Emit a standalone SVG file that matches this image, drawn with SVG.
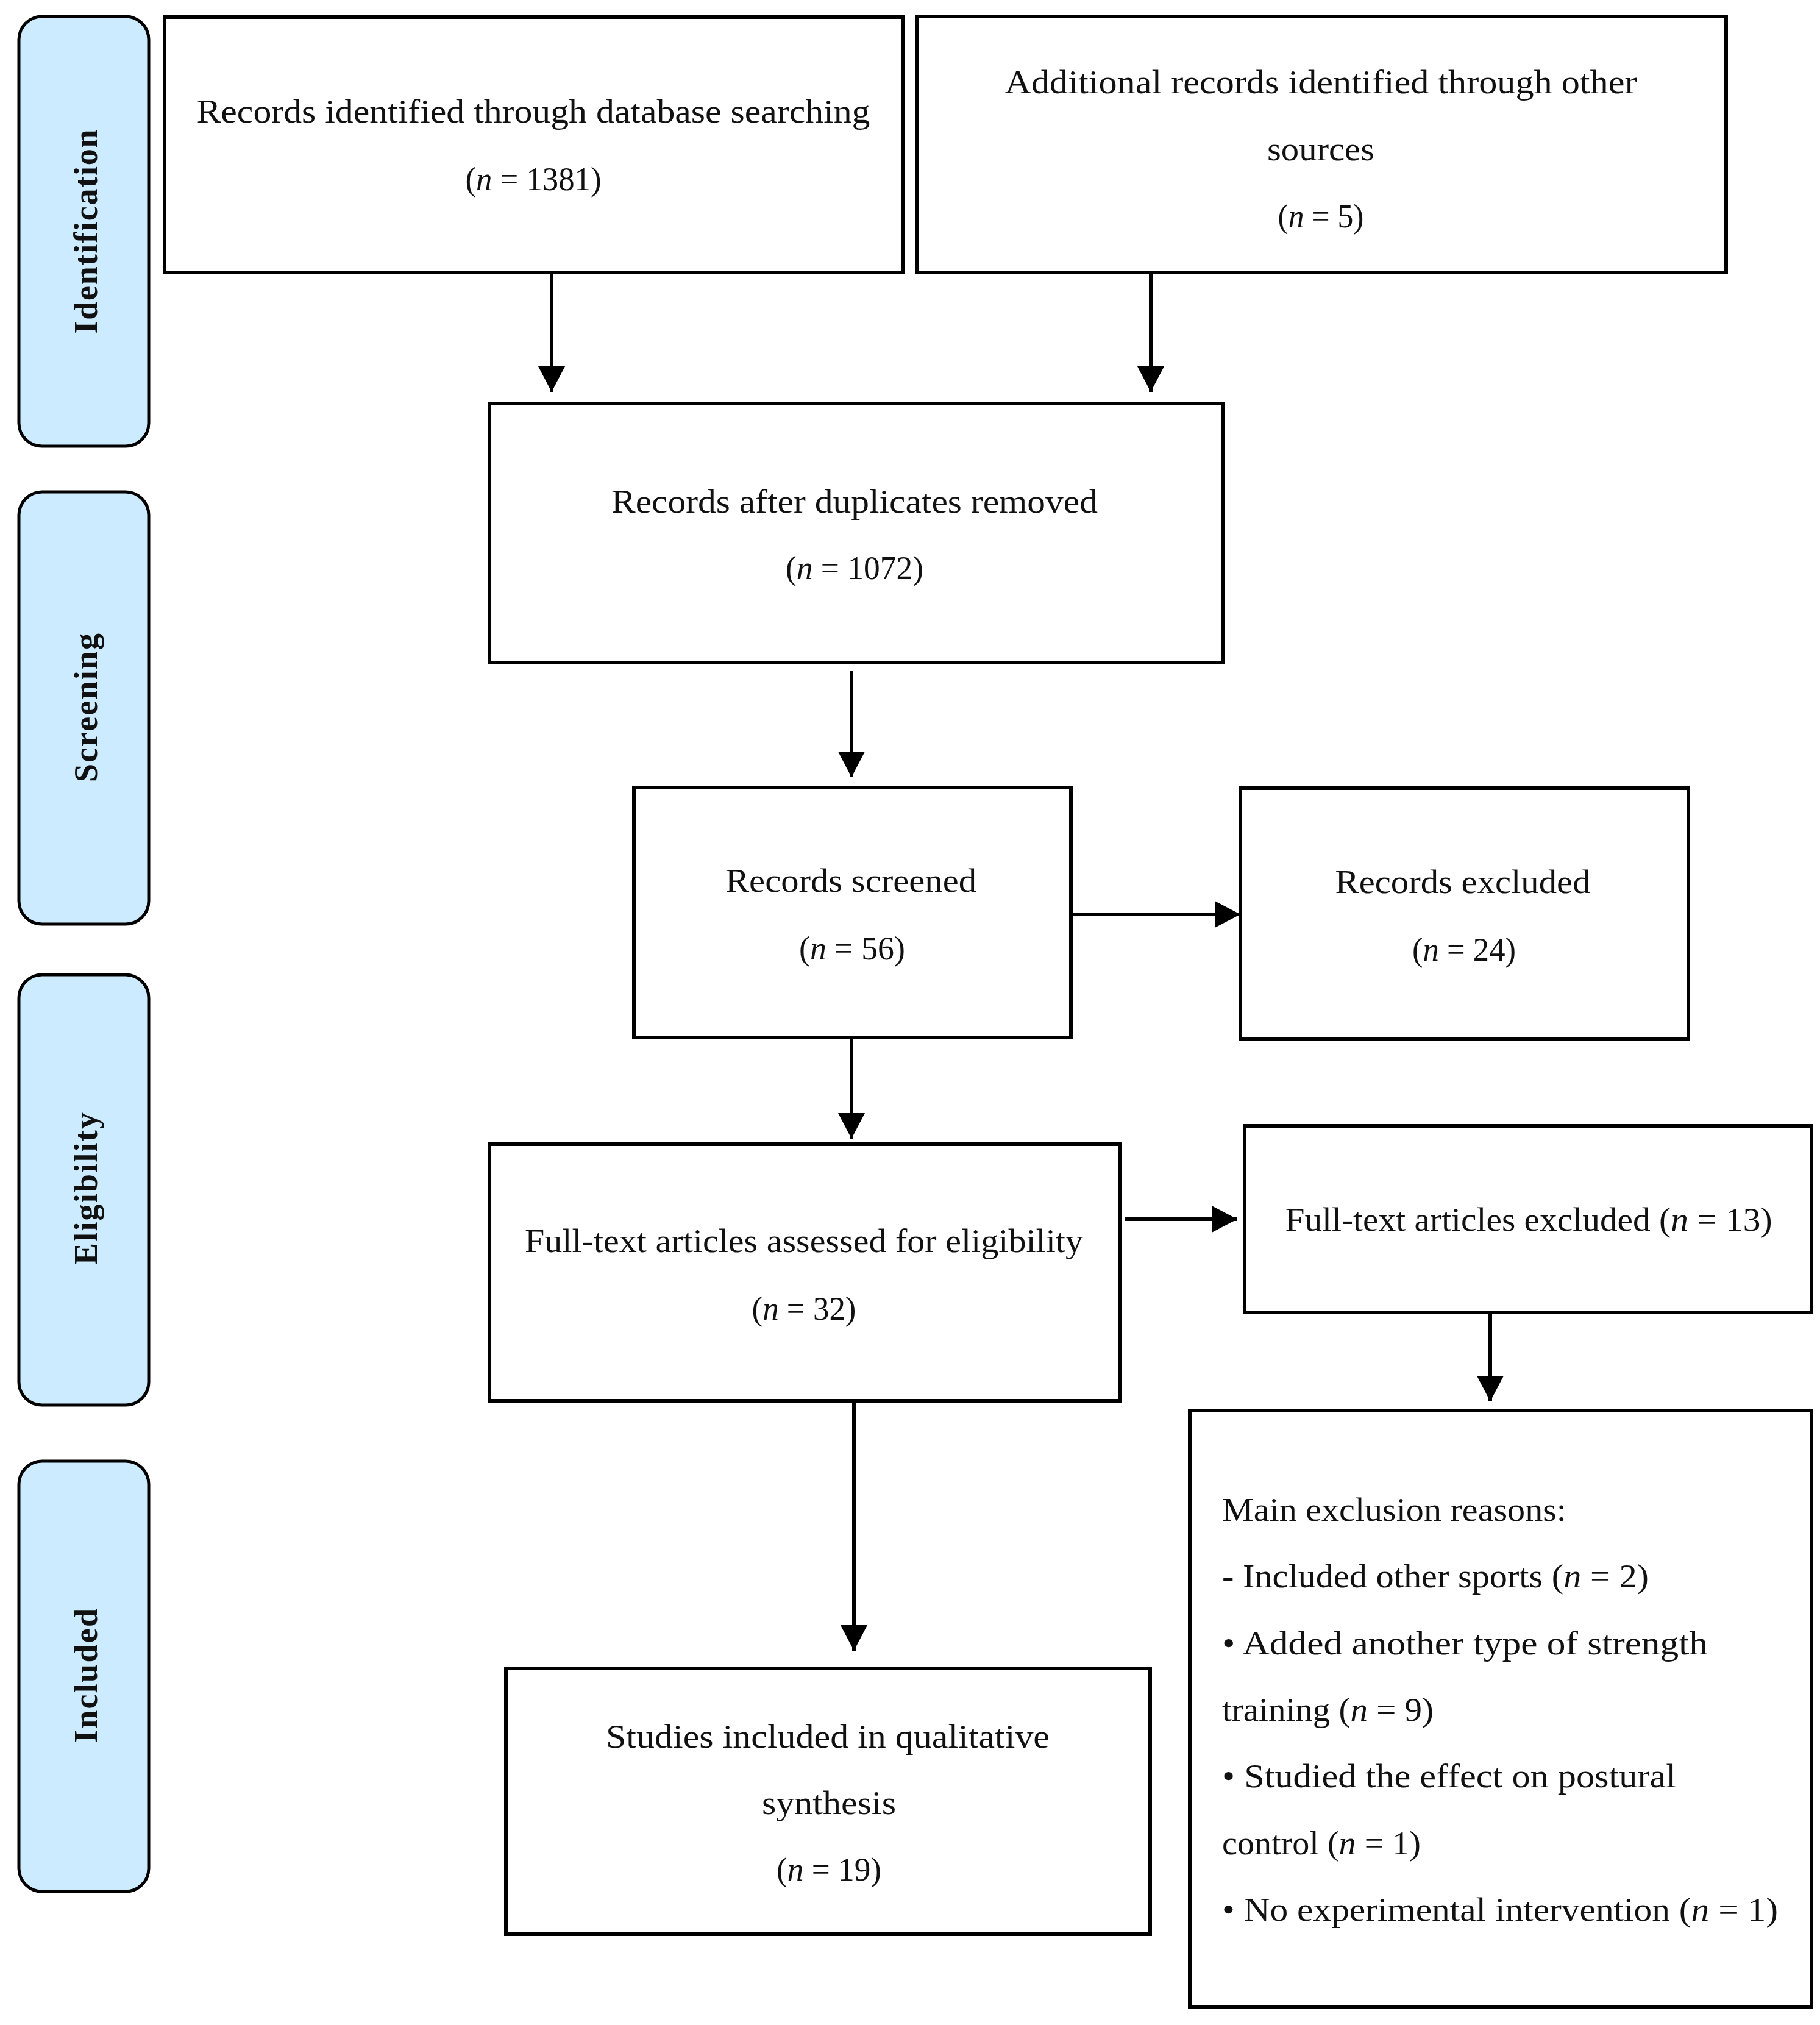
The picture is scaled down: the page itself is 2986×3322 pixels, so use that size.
<svg xmlns="http://www.w3.org/2000/svg" width="2986" height="3322" viewBox="0 0 2986 3322">
<style>
.bg{fill:#ffffff}
.box{fill:#ffffff;stroke:#000;stroke-width:6}
.phase{fill:#CCEBFF;stroke:#000;stroke-width:5}
.t{font-family:"Liberation Serif","Times New Roman",serif;font-size:54px;fill:#111;text-anchor:middle}
.tl{font-family:"Liberation Serif","Times New Roman",serif;font-size:54px;fill:#111;text-anchor:start}
.ph{font-family:"Liberation Serif","Times New Roman",serif;font-size:54px;font-weight:bold;fill:#111;text-anchor:middle}
.i{font-style:italic}
.conn{stroke:#000;stroke-width:6;fill:none}
</style>
<defs>
<marker id="ah" markerUnits="userSpaceOnUse" markerWidth="44" markerHeight="44" refX="42" refY="22" orient="auto">
<path d="M0,0 L42,22 L0,44 z" fill="#000"/>
</marker>
</defs>
<rect class="bg" x="0" y="0" width="2986" height="3322"/>

<g id="phase-identification">
<rect class="phase" x="31" y="27" width="213" height="705" rx="38" ry="38"/>
<text class="ph" transform="translate(159,380) rotate(-90)" textLength="335" lengthAdjust="spacing">Identification</text>
</g>
<g id="phase-screening">
<rect class="phase" x="31" y="807" width="213" height="709" rx="38" ry="38"/>
<text class="ph" transform="translate(159,1161) rotate(-90)" textLength="244" lengthAdjust="spacing">Screening</text>
</g>
<g id="phase-eligibility">
<rect class="phase" x="31" y="1599" width="213" height="706" rx="38" ry="38"/>
<text class="ph" transform="translate(159,1950) rotate(-90)" textLength="250" lengthAdjust="spacing">Eligibility</text>
</g>
<g id="phase-included">
<rect class="phase" x="31" y="2397" width="213" height="706" rx="38" ry="38"/>
<text class="ph" transform="translate(159,2749) rotate(-90)" textLength="220" lengthAdjust="spacing">Included</text>
</g>

<g id="connectors">
<line class="conn" x1="905" y1="447" x2="905" y2="643" marker-end="url(#ah)"/>
<line class="conn" x1="1888" y1="447" x2="1888" y2="643" marker-end="url(#ah)"/>
<line class="conn" x1="1397" y1="1101" x2="1397" y2="1275" marker-end="url(#ah)"/>
<line class="conn" x1="1397" y1="1702" x2="1397" y2="1868" marker-end="url(#ah)"/>
<line class="conn" x1="1757" y1="1500" x2="2035" y2="1500" marker-end="url(#ah)"/>
<line class="conn" x1="1845" y1="2000" x2="2030" y2="2000" marker-end="url(#ah)"/>
<line class="conn" x1="1401" y1="2298" x2="1401" y2="2708" marker-end="url(#ah)"/>
<line class="conn" x1="2445" y1="2153" x2="2445" y2="2299" marker-end="url(#ah)"/>
</g>

<g id="node-database">
<rect class="box" x="270" y="28" width="1211" height="419"/>
<text class="t" x="875" y="201" textLength="1105" lengthAdjust="spacingAndGlyphs">Records identified through database searching</text>
<text class="t" x="875" y="312" textLength="223" lengthAdjust="spacingAndGlyphs">(<tspan class="i">n</tspan> = 1381)</text>
</g>

<g id="node-other">
<rect class="box" x="1504" y="27" width="1328" height="420"/>
<text class="t" x="2167" y="153" textLength="1037" lengthAdjust="spacingAndGlyphs">Additional records identified through other</text>
<text class="t" x="2167" y="263" textLength="176" lengthAdjust="spacingAndGlyphs">sources</text>
<text class="t" x="2167" y="373" textLength="141" lengthAdjust="spacingAndGlyphs">(<tspan class="i">n</tspan> = 5)</text>
</g>

<g id="node-duplicates">
<rect class="box" x="803" y="662" width="1203" height="425"/>
<text class="t" x="1402" y="841" textLength="798" lengthAdjust="spacingAndGlyphs">Records after duplicates removed</text>
<text class="t" x="1402" y="950" textLength="226" lengthAdjust="spacingAndGlyphs">(<tspan class="i">n</tspan> = 1072)</text>
</g>

<g id="node-screened">
<rect class="box" x="1040" y="1292" width="717" height="410"/>
<text class="t" x="1396" y="1463" textLength="412" lengthAdjust="spacingAndGlyphs">Records screened</text>
<text class="t" x="1398" y="1574" textLength="174" lengthAdjust="spacingAndGlyphs">(<tspan class="i">n</tspan> = 56)</text>
</g>

<g id="node-records-excluded">
<rect class="box" x="2035" y="1293" width="735" height="412"/>
<text class="t" x="2400" y="1465" textLength="419" lengthAdjust="spacingAndGlyphs">Records excluded</text>
<text class="t" x="2402" y="1576" textLength="170" lengthAdjust="spacingAndGlyphs">(<tspan class="i">n</tspan> = 24)</text>
</g>

<g id="node-fulltext-assessed">
<rect class="box" x="803" y="1877" width="1034" height="421"/>
<text class="t" x="1319" y="2054" textLength="916" lengthAdjust="spacingAndGlyphs">Full-text articles assessed for eligibility</text>
<text class="t" x="1319" y="2165" textLength="171" lengthAdjust="spacingAndGlyphs">(<tspan class="i">n</tspan> = 32)</text>
</g>

<g id="node-fulltext-excluded">
<rect class="box" x="2042" y="1847" width="930" height="306"/>
<text class="t" x="2508" y="2019" textLength="799" lengthAdjust="spacingAndGlyphs">Full-text articles excluded (<tspan class="i">n</tspan> = 13)</text>
</g>

<g id="node-reasons">
<rect class="box" x="1952" y="2314" width="1020" height="979"/>
<text class="tl" x="2005" y="2495" textLength="565" lengthAdjust="spacingAndGlyphs">Main exclusion reasons:</text>
<text class="tl" x="2005" y="2604" textLength="700" lengthAdjust="spacingAndGlyphs">- Included other sports (<tspan class="i">n</tspan> = 2)</text>
<text class="tl" x="2005" y="2714" textLength="797" lengthAdjust="spacingAndGlyphs">•  Added another type of strength</text>
<text class="tl" x="2005" y="2823" textLength="347" lengthAdjust="spacingAndGlyphs">training (<tspan class="i">n</tspan> = 9)</text>
<text class="tl" x="2005" y="2932" textLength="745" lengthAdjust="spacingAndGlyphs">• Studied the effect on postural</text>
<text class="tl" x="2005" y="3042" textLength="326" lengthAdjust="spacingAndGlyphs">control (<tspan class="i">n</tspan> = 1)</text>
<text class="tl" x="2005" y="3151" textLength="912" lengthAdjust="spacingAndGlyphs">• No experimental intervention (<tspan class="i">n</tspan> = 1)</text>
</g>

<g id="node-included">
<rect class="box" x="830" y="2737" width="1057" height="436"/>
<text class="t" x="1358" y="2867" textLength="728" lengthAdjust="spacingAndGlyphs">Studies included in qualitative</text>
<text class="t" x="1360" y="2976" textLength="220" lengthAdjust="spacingAndGlyphs">synthesis</text>
<text class="t" x="1360" y="3085" textLength="172" lengthAdjust="spacingAndGlyphs">(<tspan class="i">n</tspan> = 19)</text>
</g>
</svg>
